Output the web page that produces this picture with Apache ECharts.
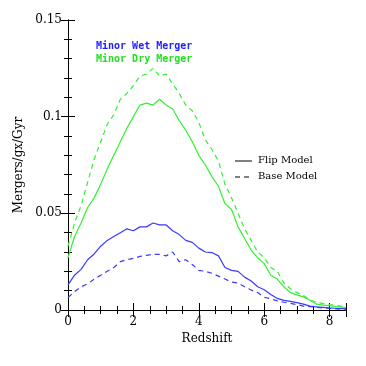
<!DOCTYPE html>
<html>
<head>
<meta charset="utf-8">
<script src="https://cdn.jsdelivr.net/npm/echarts@6/dist/echarts.min.js"></script>
<style>
  html, body { margin: 0; padding: 0; background: #fff; }
  #chart { width: 366px; height: 366px; }
</style>
</head>
<body>
<div id="chart"></div>
<script>
  // redshift grid (x)
  var redshift = [0, 0.2, 0.4, 0.6, 0.8, 1.0, 1.2, 1.4, 1.6, 1.8, 2.0, 2.2, 2.4, 2.6, 2.8, 3.0,
    3.2, 3.4, 3.6, 3.8, 4.0, 4.2, 4.4, 4.6, 4.8, 5.0, 5.2, 5.4, 5.6, 5.8, 6.0, 6.2, 6.4, 6.6,
    6.8, 7.0, 7.2, 7.4, 7.6, 7.8, 8.0, 8.2, 8.4, 8.5]

  // minor dry merger, flip model (solid green)
  var dryFlip = [0.027, 0.038, 0.045, 0.053, 0.058, 0.065, 0.073, 0.080, 0.087, 0.094, 0.100,
    0.106, 0.107, 0.106, 0.109, 0.106, 0.104, 0.098, 0.093, 0.087, 0.080, 0.075, 0.069, 0.064,
    0.055, 0.052, 0.043, 0.037, 0.031, 0.027, 0.024, 0.018, 0.016, 0.012, 0.009, 0.0078,
    0.0068, 0.005, 0.003, 0.0025, 0.0022, 0.0018, 0.0015, 0.0013]
  // minor dry merger, base model (dashed green)
  var dryBase = [0.033, 0.045, 0.054, 0.066, 0.078, 0.087, 0.096, 0.101, 0.109, 0.112, 0.116,
    0.121, 0.122, 0.125, 0.121, 0.122, 0.117, 0.112, 0.106, 0.103, 0.097, 0.088, 0.083, 0.077,
    0.065, 0.058, 0.050, 0.042, 0.036, 0.030, 0.027, 0.022, 0.020, 0.014, 0.011, 0.009,
    0.0075, 0.0052, 0.004, 0.0033, 0.0028, 0.0024, 0.0018, 0.0015]
  // minor wet merger, flip model (solid blue)
  var wetFlip = [0.013, 0.018, 0.021, 0.026, 0.029, 0.033, 0.036, 0.038, 0.040, 0.042, 0.041,
    0.043, 0.043, 0.045, 0.044, 0.044, 0.041, 0.039, 0.036, 0.035, 0.032, 0.030, 0.0297, 0.028,
    0.022, 0.0205, 0.020, 0.017, 0.015, 0.012, 0.0105, 0.008, 0.006, 0.005, 0.0045, 0.0038,
    0.003, 0.002, 0.0016, 0.0014, 0.0011, 0.0009, 0.0007, 0.0006]
  // minor wet merger, base model (dashed blue)
  var wetBase = [0.0065, 0.0095, 0.012, 0.0135, 0.016, 0.018, 0.020, 0.022, 0.025, 0.026, 0.0267,
    0.0277, 0.0283, 0.0288, 0.0288, 0.028, 0.030, 0.025, 0.026, 0.0235, 0.0205, 0.020, 0.019,
    0.0175, 0.016, 0.0145, 0.014, 0.012, 0.0103, 0.009, 0.0066, 0.0058, 0.0047, 0.004, 0.0034,
    0.0028, 0.002, 0.0017, 0.0014, 0.001, 0.0008, 0.0006, 0.0004, 0.0004]

  var xTicks = [0, 2, 4, 6, 8]
  var yTicks = [0, 0.05, 0.1, 0.15]

  var blue = '#3a3aff'
  var green = '#33f033'

  function pairs(vals) {
    return redshift.map(function (z, i) { return [z, vals[i]] })
  }

  function lineSeries(name, vals, color, dashed) {
    return {
      name: name,
      type: 'line',
      data: pairs(vals),
      showSymbol: false,
      symbol: 'none',
      lineStyle: { color: color, width: 1.2, type: dashed ? [5, 4] : 'solid' },
      z: 3,
    }
  }

  var axisLine = { show: true, lineStyle: { color: '#000', width: 1 } }
  var serif = 'DejaVu Serif'

  var chart = echarts.init(document.getElementById('chart'))
  chart.setOption({
    animation: false,
    grid: { left: 68, right: 20, top: 20, bottom: 56, containLabel: false },
    xAxis: [
      {
        type: 'value', min: 0, max: 8.5, interval: 2, position: 'bottom',
        axisLine: axisLine,
        axisTick: { inside: true, length: 7, lineStyle: { color: '#000' } },
        minorTick: { show: true, splitNumber: 4, length: 4, lineStyle: { color: '#000' } },
        splitLine: { show: false },
        axisLabel: {
          color: '#000', fontFamily: serif, fontSize: 12, margin: 6,
          showMaxLabel: false,
          formatter: function (v) { return xTicks.indexOf(v) >= 0 ? String(v) : '' },
        },
        name: 'Redshift', nameLocation: 'middle', nameGap: 23,
        nameTextStyle: { color: '#000', fontFamily: serif, fontSize: 12 },
      },
      {
        type: 'value', min: 0, max: 8.5, interval: 2, position: 'top',
        axisLine: axisLine,
        axisTick: { inside: true, length: 7, lineStyle: { color: '#000' } },
        minorTick: { show: true, splitNumber: 4, length: 4, lineStyle: { color: '#000' } },
        splitLine: { show: false },
        axisLabel: { show: false },
      },
    ],
    yAxis: [
      {
        type: 'value', min: 0, max: 0.15, interval: 0.05, position: 'left',
        axisLine: axisLine,
        axisTick: { inside: true, length: 7, lineStyle: { color: '#000' } },
        minorTick: { show: true, splitNumber: 5, length: 4, lineStyle: { color: '#000' } },
        splitLine: { show: false },
        axisLabel: {
          color: '#000', fontFamily: serif, fontSize: 12, margin: 6,
          formatter: function (v) {
            for (var i = 0; i < yTicks.length; i++) {
              if (Math.abs(v - yTicks[i]) < 1e-9) return String(yTicks[i])
            }
            return ''
          },
        },
        name: 'Mergers/gx/Gyr', nameLocation: 'middle', nameGap: 37,
        nameTextStyle: { color: '#000', fontFamily: serif, fontSize: 12 },
      },
      {
        type: 'value', min: 0, max: 0.15, interval: 0.05, position: 'right',
        axisLine: axisLine,
        axisTick: { inside: true, length: 7, lineStyle: { color: '#000' } },
        minorTick: { show: true, splitNumber: 5, length: 4, lineStyle: { color: '#000' } },
        splitLine: { show: false },
        axisLabel: { show: false },
      },
    ],
    series: [
      lineSeries('Minor Dry Merger (Base)', dryBase, green, true),
      lineSeries('Minor Dry Merger (Flip)', dryFlip, green, false),
      lineSeries('Minor Wet Merger (Base)', wetBase, blue, true),
      lineSeries('Minor Wet Merger (Flip)', wetFlip, blue, false),
    ],
    graphic: [
      { type: 'text', left: 96, top: 41, style: { text: 'Minor Wet Merger', fill: '#2222ff', font: 'bold 10px "DejaVu Sans Mono"' } },
      { type: 'text', left: 96, top: 54, style: { text: 'Minor Dry Merger', fill: '#22e022', font: 'bold 10px "DejaVu Sans Mono"' } },
      { type: 'line', shape: { x1: 235, y1: 161, x2: 252, y2: 161 }, style: { stroke: '#000', lineWidth: 1 } },
      { type: 'line', shape: { x1: 235, y1: 177, x2: 252, y2: 177 }, style: { stroke: '#000', lineWidth: 1, lineDash: [5, 4] } },
      { type: 'text', left: 258, top: 155, style: { text: 'Flip Model', fill: '#000', font: '10px "DejaVu Serif"' } },
      { type: 'text', left: 258, top: 171, style: { text: 'Base Model', fill: '#000', font: '10px "DejaVu Serif"' } },
    ],
  })
</script>
</body>
</html>
